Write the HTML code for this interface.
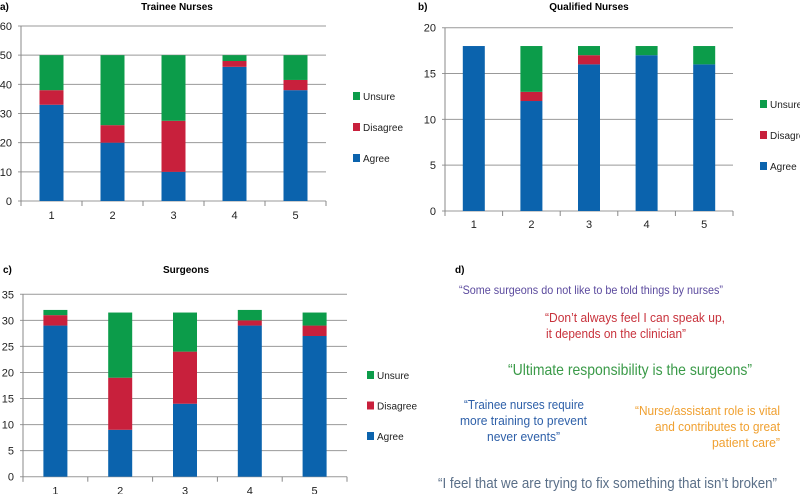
<!DOCTYPE html>
<html><head><meta charset="utf-8"><style>
body{margin:0;background:#fff}
svg{display:block;font-family:"Liberation Sans",sans-serif}
</style></head><body>
<svg id="s" width="800" height="494" viewBox="0 0 800 494">
<g>
<text x="455" y="273" font-size="10" font-weight="bold">d)</text>
<text x="459" y="294" font-size="12" fill="#5b4a9e" textLength="264" lengthAdjust="spacingAndGlyphs">“Some surgeons do not like to be told things by nurses”</text>
<text x="545" y="322" font-size="13" fill="#c8323c" textLength="180" lengthAdjust="spacingAndGlyphs">“Don’t always feel I can speak up,</text>
<text x="546" y="338" font-size="13" fill="#c8323c" textLength="140" lengthAdjust="spacingAndGlyphs">it depends on the clinician”</text>
<text x="508" y="375" font-size="16" fill="#3a9a48" textLength="244" lengthAdjust="spacingAndGlyphs">“Ultimate responsibility is the surgeons”</text>
<text x="464" y="409" font-size="13" fill="#2d5fa8" textLength="120" lengthAdjust="spacingAndGlyphs">“Trainee nurses require</text>
<text x="460" y="425" font-size="13" fill="#2d5fa8" textLength="127" lengthAdjust="spacingAndGlyphs">more training to prevent</text>
<text x="487" y="441" font-size="13" fill="#2d5fa8" textLength="73" lengthAdjust="spacingAndGlyphs">never events”</text>
<text x="635" y="415" font-size="13" fill="#f0a030" textLength="145" lengthAdjust="spacingAndGlyphs">“Nurse/assistant role is vital</text>
<text x="655" y="431" font-size="13" fill="#f0a030" textLength="125" lengthAdjust="spacingAndGlyphs">and contributes to great</text>
<text x="712" y="447" font-size="13" fill="#f0a030" textLength="68" lengthAdjust="spacingAndGlyphs">patient care”</text>
<text x="438" y="488" font-size="15" fill="#5a6f88" textLength="339" lengthAdjust="spacingAndGlyphs">“I feel that we are trying to fix something that isn’t broken”</text>
</g>
</svg>
<script>
const categories=["1","2","3","4","5"];
const seriesNames=["Agree","Disagree","Unsure"];
const traineeAgree=[33,20,10,46,38];
const traineeDisagree=[5,6,17.5,2,3.5];
const traineeUnsure=[12,24,22.5,2,8.5];
const traineeTicks=[0,10,20,30,40,50,60];
const qualifiedAgree=[18,12,16,17,16];
const qualifiedDisagree=[0,1,1,0,0];
const qualifiedUnsure=[0,5,1,1,2];
const qualifiedTicks=[0,5,10,15,20];
const surgeonAgree=[29,9,14,29,27];
const surgeonDisagree=[2,10,10,1,2];
const surgeonUnsure=[1,12.5,7.5,2,2.5];
const surgeonTicks=[0,5,10,15,20,25,30,35];
const colors=["#0b63ad","#c8203c","#0c9c4a"];
const NS="http://www.w3.org/2000/svg";
const svg=document.getElementById('s');
function mk(tag,attrs,parent,txt){const e=document.createElementNS(NS,tag);for(const k in attrs)e.setAttribute(k,attrs[k]);if(txt!==undefined)e.textContent=txt;parent.appendChild(e);return e;}
function chart(cfg){
  const g=mk('g',{},svg);
  
  
  const max=cfg.ticks[cfg.ticks.length-1];
  const y=v=>cfg.y0-(cfg.y0-cfg.yTop)*v/max;
  const step=(cfg.x1-cfg.x0)/categories.length;
  const xc=i=>cfg.x0+step*(i+0.5);
  const lab=mk('text',{x:cfg.labelX,y:cfg.labelY,'font-size':10,'font-weight':'bold'},g,cfg.label);
  
  
  const t=mk('text',{x:cfg.titleX,y:cfg.labelY,'font-size':10,'font-weight':'bold','text-anchor':'middle'},g,cfg.title);
  
  
  cfg.ticks.forEach(v=>{
    const l=mk('line',{x1:cfg.x0-3,x2:cfg.x1,y1:y(v),y2:y(v),stroke:'#999','stroke-width':1},g);
    
    
    const tl=mk('text',{x:cfg.x0-9,y:y(v)+4,'font-size':11,'text-anchor':'end',fill:'#222'},g,String(v));
    
    
  });
  const ax=mk('line',{x1:cfg.x0,x2:cfg.x0,y1:cfg.yTop,y2:cfg.y0+5,stroke:'#888'},g);
  
  
  for(let i=0;i<=categories.length;i++){
    const tk=mk('line',{x1:cfg.x0+step*i,x2:cfg.x0+step*i,y1:cfg.y0,y2:cfg.y0+5,stroke:'#888'},g);
    
    
  }
  categories.forEach((c,i)=>{
    let base=0;
    cfg.series.forEach((s,k)=>{
      const v=s[i];
      if(v>0){
        const r=mk('rect',{x:xc(i)-cfg.bw/2,y:y(base+v),width:cfg.bw,height:y(base)-y(base+v),fill:colors[k]},g);
        
        
      }
      base+=v;
    });
    const xl=mk('text',{x:xc(i),y:cfg.y0+cfg.xlOff,'font-size':11,'text-anchor':'middle',fill:'#222'},g,c);
    
    
  });
  [2,1,0].forEach((k,j)=>{
    const ly=cfg.legY+j*cfg.legGap;
    const sq=mk('rect',{x:cfg.legX,y:ly-4,width:7,height:8,fill:colors[k]},g);
    
    
    const lt=mk('text',{x:cfg.legX+10,y:ly+4,'font-size':10,fill:'#222'},g,seriesNames[k]);
    
    
  });
}
chart({name:'chart-trainee-nurses',label:'a)',labelX:0,labelY:10,title:'Trainee Nurses',titleX:177,x0:21,x1:326,y0:201,yTop:26,bw:24,ticks:traineeTicks,series:[traineeAgree,traineeDisagree,traineeUnsure],legX:353,legY:96,legGap:31,xlOff:18});
chart({name:'chart-qualified-nurses',label:'b)',labelX:418,labelY:10,title:'Qualified Nurses',titleX:589,x0:445,x1:733,y0:211,yTop:27.7,bw:22,ticks:qualifiedTicks,series:[qualifiedAgree,qualifiedDisagree,qualifiedUnsure],legX:760,legY:104,legGap:31,xlOff:17});
chart({name:'chart-surgeons',label:'c)',labelX:3,labelY:273,title:'Surgeons',titleX:186,x0:23,x1:347,y0:476.7,yTop:294.3,bw:24,ticks:surgeonTicks,series:[surgeonAgree,surgeonDisagree,surgeonUnsure],legX:367,legY:375,legGap:30.5,xlOff:18});
</script>
</body></html>
